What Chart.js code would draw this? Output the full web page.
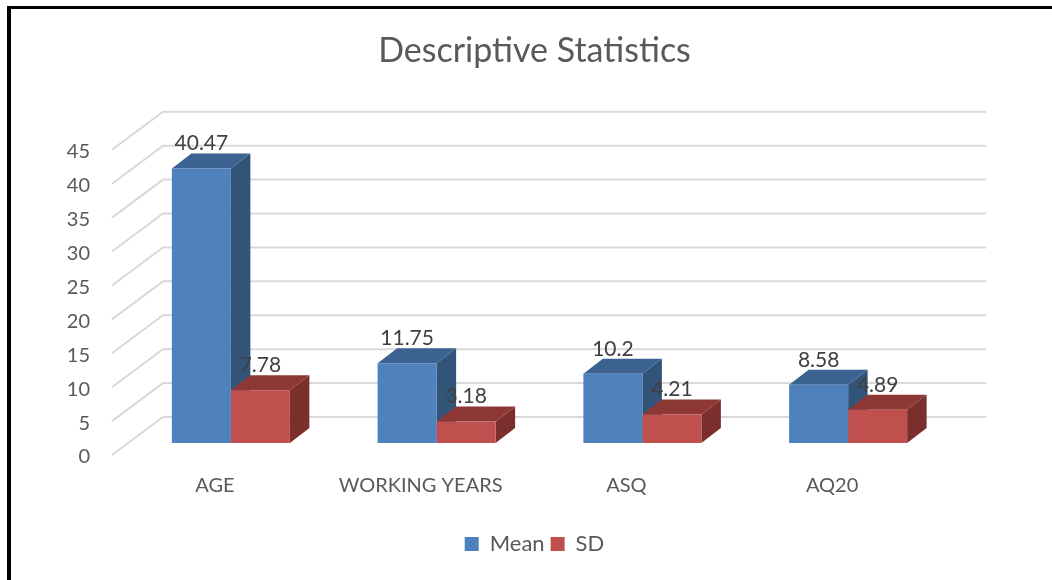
<!DOCTYPE html>
<html>
<head>
<meta charset="utf-8">
<title>Descriptive Statistics</title>
<script src="https://cdn.jsdelivr.net/npm/chart.js@4"></script>
<style>
  html, body { margin: 0; padding: 0; background: #fff; }
  #frame { position: absolute; left: 7px; top: 6px; right: 0; bottom: 0; border-left: 4px solid #000; border-top: 3px solid #000; }
  #myChart { position: absolute; left: 0; top: 0; }
</style>
</head>
<body>
<canvas id="myChart" width="1052" height="580"></canvas>
<div id="frame"></div>
<script>
const categories = ['AGE', 'WORKING YEARS', 'ASQ', 'AQ20'];
const meanValues = [40.47, 11.75, 10.2, 8.58];
const sdValues = [7.78, 3.18, 4.21, 4.89];
const meanLabels = ['40.47', '11.75', '10.2', '8.58'];
const sdLabels = ['7.78', '3.18', '4.21', '4.89'];

const fontName = 'Lato';
// depth of the fake 3d box
const wallDx = 51, wallDy = -38;   // axis plane -> back wall
const barDx = 16, barDy = -12;     // axis plane -> front of the bars
const boxDx = 19.5, boxDy = -15;   // front of bar -> back of bar

const faces = [
  { top: '#3b6291', side: '#325479' },
  { top: '#8e3836', side: '#7a2f2d' }
];

function poly(ctx, color, pts) {
  ctx.fillStyle = color;
  ctx.beginPath();
  pts.forEach((p, i) => i ? ctx.lineTo(p[0], p[1]) : ctx.moveTo(p[0], p[1]));
  ctx.closePath();
  ctx.fill();
}

// gridlines run along the left wall then the back wall
const wallPlugin = {
  id: 'wall',
  beforeDatasetsDraw(chart) {
    const ctx = chart.ctx, y = chart.scales.y, left = chart.chartArea.left, right = chart.chartArea.right;
    ctx.save();
    ctx.strokeStyle = '#d9d9d9';
    ctx.lineWidth = 2;
    y.ticks.forEach(t => {
      const py = y.getPixelForValue(t.value);
      ctx.beginPath();
      ctx.moveTo(left, py);
      ctx.lineTo(left + wallDx, py + wallDy);
      ctx.lineTo(right + wallDx, py + wallDy);
      ctx.stroke();
    });
    ctx.restore();
  }
};

const boxPlugin = {
  id: 'box',
  // tops and sides go first, the front faces of the bars then cover what they should
  beforeDatasetsDraw(chart) {
    const ctx = chart.ctx;
    ctx.save();
    ctx.translate(barDx, barDy);
    faces.forEach((c, d) => {
      chart.getDatasetMeta(d).data.forEach(b => {
        const l = b.x - b.width / 2, r = b.x + b.width / 2;
        poly(ctx, c.side, [[r, b.y], [r + boxDx, b.y + boxDy], [r + boxDx, b.base + boxDy], [r, b.base]]);
        poly(ctx, c.top, [[l, b.y], [l + boxDx, b.y + boxDy], [r + boxDx, b.y + boxDy], [r, b.y]]);
      });
    });
    ctx.restore();
  },
  beforeDatasetDraw(chart) {
    chart.ctx.save();
    chart.ctx.translate(barDx, barDy);
  },
  afterDatasetDraw(chart) {
    chart.ctx.restore();
  },
  afterDatasetsDraw(chart) {
    const ctx = chart.ctx;
    ctx.save();
    ctx.font = '21px ' + fontName;
    ctx.fillStyle = '#404040';
    ctx.textAlign = 'center';
    ctx.textBaseline = 'middle';
    [meanLabels, sdLabels].forEach((texts, d) => {
      chart.getDatasetMeta(d).data.forEach((b, i) => {
        ctx.fillText(texts[i], b.x + barDx, b.y + barDy - 25);
      });
    });
    ctx.restore();
  }
};

const ctx = document.getElementById('myChart').getContext('2d');
const myChart = new Chart(ctx, {
  type: 'bar',
  plugins: [wallPlugin, boxPlugin],
  data: {
    labels: categories,
    datasets: [
      { label: 'Mean', data: meanValues, backgroundColor: '#4f81bd', clip: false },
      { label: 'SD', data: sdValues, backgroundColor: '#c0504d', clip: false }
    ]
  },
  options: {
    responsive: false,
    animation: false,
    layout: { padding: { left: 17, right: 0, top: 0, bottom: 15 } },
    barPercentage: 1,
    categoryPercentage: 0.5735,
    plugins: {
      title: {
        display: true,
        text: 'Descriptive Statistics',
        color: '#595959',
        font: { family: fontName, size: 34, weight: 'normal' },
        padding: { top: 31, bottom: 78 }
      },
      legend: {
        position: 'bottom',
        labels: {
          color: '#595959',
          font: { family: fontName, size: 22 },
          boxWidth: 14,
          boxHeight: 14,
          padding: 6
        }
      },
      tooltip: { enabled: false }
    },
    scales: {
      x: {
        grid: { display: false },
        border: { display: false },
        ticks: { color: '#595959', font: { family: fontName, size: 20 }, padding: 11, maxRotation: 0, autoSkip: false },
        afterFit(scale) { scale.height = 72; }
      },
      y: {
        min: 0,
        max: 45,
        grid: { display: false },
        border: { display: false },
        ticks: { stepSize: 5, color: '#595959', font: { family: fontName, size: 20 }, padding: 14, labelOffset: 2 },
        afterFit(scale) { scale.width = 95; }
      },
      // empty axis, only reserves the room taken by the back wall
      spare: {
        position: 'right',
        grid: { display: false },
        border: { display: false },
        ticks: { display: false },
        afterFit(scale) { scale.width = 117; }
      }
    }
  }
});
</script>
</body>
</html>
